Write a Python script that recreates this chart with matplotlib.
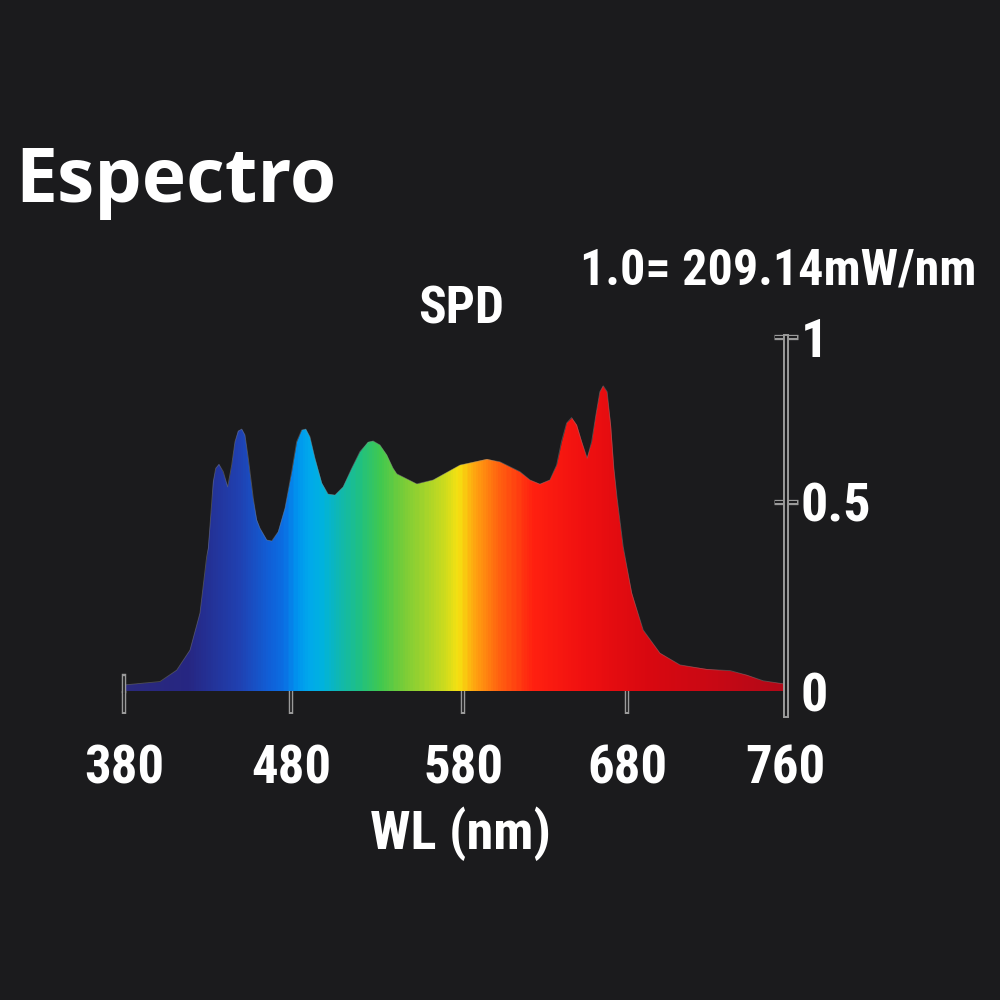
import numpy as np
import matplotlib
matplotlib.use("Agg")
import matplotlib.pyplot as plt
from matplotlib.colors import LinearSegmentedColormap, Normalize

# spectrum (relative SPD, 1.0 = 209.14 mW/nm)
wavelength = [380, 401.4, 411.4, 419.4, 425.4, 429.4, 430.4, 432.4, 433.4, 434.8,
              436.8, 439.4, 442.0, 444.4, 446.4, 448.4, 450.4, 452.4, 454.4, 457.4,
              459.4, 461.4, 465.4, 468.4, 472.4, 476.4, 480.4, 483.3, 486.2, 488.5,
              491.0, 493.9, 497.8, 501.6, 505.5, 510.3, 515.2, 520.0, 524.8, 527.7,
              531.6, 535.5, 539.3, 541.3, 552.9, 562.6, 578.1, 594.3, 602.4, 608.5,
              614.6, 620.7, 626.8, 632.9, 637.0, 640.0, 643.1, 646.1, 649.2, 652.3,
              655.7, 658.4, 661.0, 663.4, 665.5, 667.9, 670.0, 672.0, 674.0, 677.7,
              682.4, 688.2, 696.6, 706.7, 720.1, 731.9, 740.3, 748.7, 760]
spd = [0.016, 0.025, 0.055, 0.108, 0.206, 0.355, 0.377, 0.497, 0.561, 0.601,
       0.613, 0.591, 0.545, 0.611, 0.682, 0.714, 0.720, 0.702, 0.632, 0.510,
       0.452, 0.430, 0.399, 0.396, 0.421, 0.483, 0.591, 0.682, 0.717, 0.720,
       0.697, 0.632, 0.556, 0.523, 0.520, 0.545, 0.601, 0.652, 0.680, 0.684,
       0.672, 0.642, 0.601, 0.585, 0.554, 0.566, 0.611, 0.628, 0.621, 0.606,
       0.591, 0.566, 0.553, 0.566, 0.611, 0.682, 0.738, 0.755, 0.732, 0.682,
       0.632, 0.682, 0.763, 0.833, 0.851, 0.833, 0.732, 0.601, 0.510, 0.381,
       0.258, 0.161, 0.100, 0.069, 0.057, 0.054, 0.042, 0.027, 0.018]

x_ticks = [380, 480, 580, 680, 760]
x_tick_labels = ["380", "480", "580", "680", "760"]
y_ticks = [0, 0.5, 1]
y_tick_labels = ["0", "0.5", "1"]

# colour of the fill along the wavelength axis
grad_nm = [380, 418, 448, 467, 476, 484, 490, 498, 508, 520, 532, 545, 559, 570,
           577, 580, 588, 602, 623, 653, 692, 725, 760]
grad_colors = ["#2b2a7c", "#262682", "#2040b0", "#1060d8", "#0a70e4", "#0096ee",
               "#00a8ec", "#00b2de", "#10b8b0", "#20c080", "#40c850", "#78cc38",
               "#a8d42a", "#d0dc1c", "#f4e012", "#f8d010", "#ffa010", "#ff6010",
               "#ff2010", "#f01010", "#d80810", "#c80814", "#b00818"]

# the original axes are not evenly spaced: where the ticks sit (pixels)
x_tick_pos = [0, 166.7, 339.0, 502.7, 661.4]
y_tick_pos = [0, 189.3, 354.3]

bg = "#1b1b1d"
outline = "#9a9a9a"
white = "#ffffff"
narrow = ["Liberation Sans Narrow", "Roboto Condensed", "Liberation Sans"]
title_font = ["Open Sans", "Lato", "DejaVu Sans"]


def piecewise(src, dst):
    src = np.asarray(src, float)
    dst = np.asarray(dst, float)

    def f(v):
        v = np.asarray(v, float)
        out = np.interp(v, src, dst)
        lo_slope = (dst[1] - dst[0]) / (src[1] - src[0])
        hi_slope = (dst[-1] - dst[-2]) / (src[-1] - src[-2])
        out = np.where(v < src[0], dst[0] + (v - src[0]) * lo_slope, out)
        out = np.where(v > src[-1], dst[-1] + (v - src[-1]) * hi_slope, out)
        return out
    return f


fig = plt.figure(figsize=(10, 10), dpi=100, facecolor=bg)
ax = fig.add_axes([0.1243, 0.309, 0.6614, 0.3543])
ax.set_facecolor(bg)
ax.set_xscale("function", functions=(piecewise(x_ticks, x_tick_pos), piecewise(x_tick_pos, x_ticks)))
ax.set_yscale("function", functions=(piecewise(y_ticks, y_tick_pos), piecewise(y_tick_pos, y_ticks)))
ax.set_xlim(380, 760)
ax.set_ylim(0, 1)

# gradient mesh clipped to the area under the curve
cmap = LinearSegmentedColormap.from_list(
    "spec", [((n - 380) / 380, c) for n, c in zip(grad_nm, grad_colors)])
edges = np.linspace(380, 760, 381)
centers = (edges[:-1] + edges[1:]) / 2
mesh = ax.pcolormesh(edges, [0, 1], centers[np.newaxis, :], cmap=cmap,
                     norm=Normalize(380, 760), shading="flat", zorder=1)
area = ax.fill_between(wavelength, 0, spd, facecolor="none", edgecolor="none")
mesh.set_clip_path(area.get_paths()[0], transform=ax.transData)
ax.plot(wavelength, spd, color="#8a8a8a", lw=0.6, alpha=0.45, zorder=1.2,
        solid_joinstyle="round")

# axes: hollow capsule-like ticks
for s in ["top", "left", "bottom"]:
    ax.spines[s].set_visible(False)
ax.spines["right"].set_color(outline)
ax.spines["right"].set_linewidth(4.3)
ax.spines["right"].set_bounds(-0.063, 1)
ax.plot([760, 760], [-0.063, 1], color=bg, lw=1.5, clip_on=False, zorder=3)

ax.set_xticks(x_ticks, x_tick_labels)
ax.set_xticks(x_ticks, minor=True)
ax.xaxis.remove_overlapping_locs = False
ax.tick_params(axis="x", which="major", direction="out", length=16.5, width=3.2,
               color=outline, pad=21, labelsize=38, labelcolor=white)
ax.tick_params(axis="x", which="minor", direction="out", length=15.3, width=1.2,
               color=bg)
ax.plot([x_ticks[0]] * 2, [0, 0.04], color=outline, lw=3.2, clip_on=False, zorder=3)
ax.plot([x_ticks[0]] * 2, [-0.005, 0.036], color=bg, lw=1.2, clip_on=False, zorder=3.1)

ax.yaxis.tick_right()
ax.set_yticks(y_ticks, y_tick_labels)
ax.set_yticks(y_ticks, minor=True)
ax.yaxis.remove_overlapping_locs = False
ax.tick_params(axis="y", which="major", direction="inout", length=17.3, width=3.8,
               color=outline, pad=2, labelsize=39, labelcolor=white)
ax.tick_params(axis="y", which="minor", direction="inout", length=15.5, width=1.4,
               color=bg)
ax.yaxis.get_major_ticks()[0].tick2line.set_visible(False)
ax.yaxis.get_minor_ticks()[0].tick2line.set_visible(False)

for lab in ax.get_xticklabels() + ax.get_yticklabels():
    lab.set_family(narrow)
    lab.set_fontweight("bold")

ax.set_xlabel("WL (nm)", fontsize=39, color=white, fontweight="bold", family=narrow)
ax.xaxis.set_label_coords(0.508, -0.325)

fig.text(0.461, 1 - 0.323, "SPD", ha="center", va="baseline", fontsize=37,
         color=white, fontweight="bold", family=narrow)
fig.text(0.778, 1 - 0.285, "1.0= 209.14mW/nm", ha="center", va="baseline",
         fontsize=36, color=white, fontweight="bold", family=narrow)
fig.text(0.015, 1 - 0.202, "Espectro", ha="left", va="baseline", fontsize=54,
         color=white, fontweight="bold", family=title_font)

fig.savefig("out.png", dpi=100, facecolor=bg)
